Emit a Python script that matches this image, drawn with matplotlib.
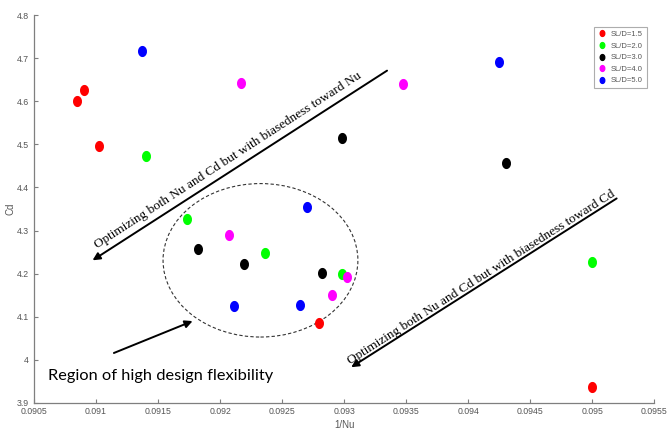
import matplotlib
matplotlib.use("Agg")
import matplotlib.pyplot as plt
from matplotlib.path import Path
from matplotlib.markers import MarkerStyle
from matplotlib.patches import Ellipse
import numpy as np

# Data (1/Nu, Cd) for each SL/D group
labels = ["SL/D=1.5", "SL/D=2.0", "SL/D=3.0", "SL/D=4.0", "SL/D=5.0"]
colors = ["#ff0000", "#00ff00", "#000000", "#ff00ff", "#0000ff"]

x_15 = [0.09085, 0.0909, 0.09102, 0.0928, 0.0950]
y_15 = [4.600, 4.627, 4.497, 4.085, 3.936]
x_20 = [0.0914, 0.09173, 0.09236, 0.09298, 0.0950]
y_20 = [4.472, 4.327, 4.248, 4.199, 4.226]
x_30 = [0.09182, 0.09219, 0.09282, 0.09298, 0.0943]
y_30 = [4.257, 4.223, 4.202, 4.514, 4.456]
x_40 = [0.09207, 0.09217, 0.0929, 0.09302, 0.09347]
y_40 = [4.290, 4.642, 4.151, 4.193, 4.640]
x_50 = [0.09137, 0.09211, 0.0927, 0.09264, 0.09425]
y_50 = [4.717, 4.126, 4.354, 4.127, 4.692]

xs = [x_15, x_20, x_30, x_40, x_50]
ys = [y_15, y_20, y_30, y_40, y_50]

xticks = np.round(np.arange(0.0905, 0.09551, 0.0005), 4)
yticks = np.round(np.arange(3.9, 4.801, 0.1), 1)
xtick_labels = ["0.0905", "0.091", "0.0915", "0.092", "0.0925", "0.093",
                "0.0935", "0.094", "0.0945", "0.095", "0.0955"]
ytick_labels = ["3.9", "4", "4.1", "4.2", "4.3", "4.4", "4.5", "4.6", "4.7", "4.8"]

gray = "#7f7f7f"
txtgray = "#555555"

# slightly tall dot marker like the stretched matlab figure
t = np.linspace(0, 2 * np.pi, 40)
dot = MarkerStyle(Path(np.column_stack([0.78 * np.cos(t), np.sin(t)])))

fig = plt.figure(figsize=(6.69, 4.33), dpi=100)
ax = fig.add_axes([0.0508, 0.0693, 0.9275, 0.896])

for x, y, c, lab in zip(xs, ys, colors, labels):
    ax.plot(x, y, linestyle="none", marker=dot, markersize=7,
            color=c, markeredgecolor=c, label=lab)

ax.set_xlim(0.0905, 0.0955)
ax.set_ylim(3.9, 4.8)
ax.set_xticks(xticks)
ax.set_xticklabels(xtick_labels)
ax.set_yticks(yticks)
ax.set_yticklabels(ytick_labels)
ax.tick_params(direction="in", length=3, width=0.8, colors=gray,
               labelsize=6.3, labelcolor=txtgray)
ax.tick_params(axis="x", pad=3)
for s in ["top", "right"]:
    ax.spines[s].set_visible(False)
for s in ["left", "bottom"]:
    ax.spines[s].set_color(gray)
    ax.spines[s].set_linewidth(0.9)

for lab in ax.get_xticklabels() + ax.get_yticklabels():
    lab.set_fontfamily("Liberation Sans")

ax.set_xlabel("1/Nu", fontsize=7, color=txtgray, family="Liberation Sans", labelpad=3)
ax.set_ylabel("Cd", fontsize=7, color=txtgray, family="Liberation Sans", labelpad=1)

leg = ax.legend(loc="upper right", bbox_to_anchor=(0.994, 0.979),
                frameon=True, fancybox=False, markerscale=0.6,
                handlelength=1.0, handletextpad=0.7, borderpad=0.5,
                labelspacing=0.55, prop={"family": "Liberation Sans", "size": 5.5})
leg.get_frame().set_edgecolor("#999999")
leg.get_frame().set_linewidth(0.8)
for txt in leg.get_texts():
    txt.set_color(txtgray)

# dashed region
ell = Ellipse((0.092325, 4.231), 0.00157, 0.356, fill=False,
              linestyle=(0, (3, 2)), linewidth=0.8, edgecolor="#333333")
ax.add_patch(ell)

arrow = dict(arrowstyle="-|>", color="black", lw=1.4, mutation_scale=11,
             shrinkA=0, shrinkB=0)

ax.annotate("", xy=(0.090972, 4.231), xytext=(0.093345, 4.671), arrowprops=arrow)
ax.annotate("", xy=(0.093056, 3.983), xytext=(0.095195, 4.3745), arrowprops=arrow)
ax.annotate("", xy=(0.091778, 4.090), xytext=(0.091144, 4.016), arrowprops=arrow)

ax.text(0.092065, 4.462, "Optimizing both Nu and Cd but with biasedness toward Nu",
        rotation=32.9, ha="center", va="center", fontsize=9.5,
        family="Liberation Serif", rotation_mode="anchor")
ax.text(0.094105, 4.192, "Optimizing both Nu and Cd but with biasedness toward Cd",
        rotation=32.5, ha="center", va="center", fontsize=9.5,
        family="Liberation Serif", rotation_mode="anchor")
ax.text(0.090613, 3.962, "Region of high design flexibility", ha="left", va="center",
        fontsize=11.8, family="Lato")

fig.savefig("out.png", dpi=100)
